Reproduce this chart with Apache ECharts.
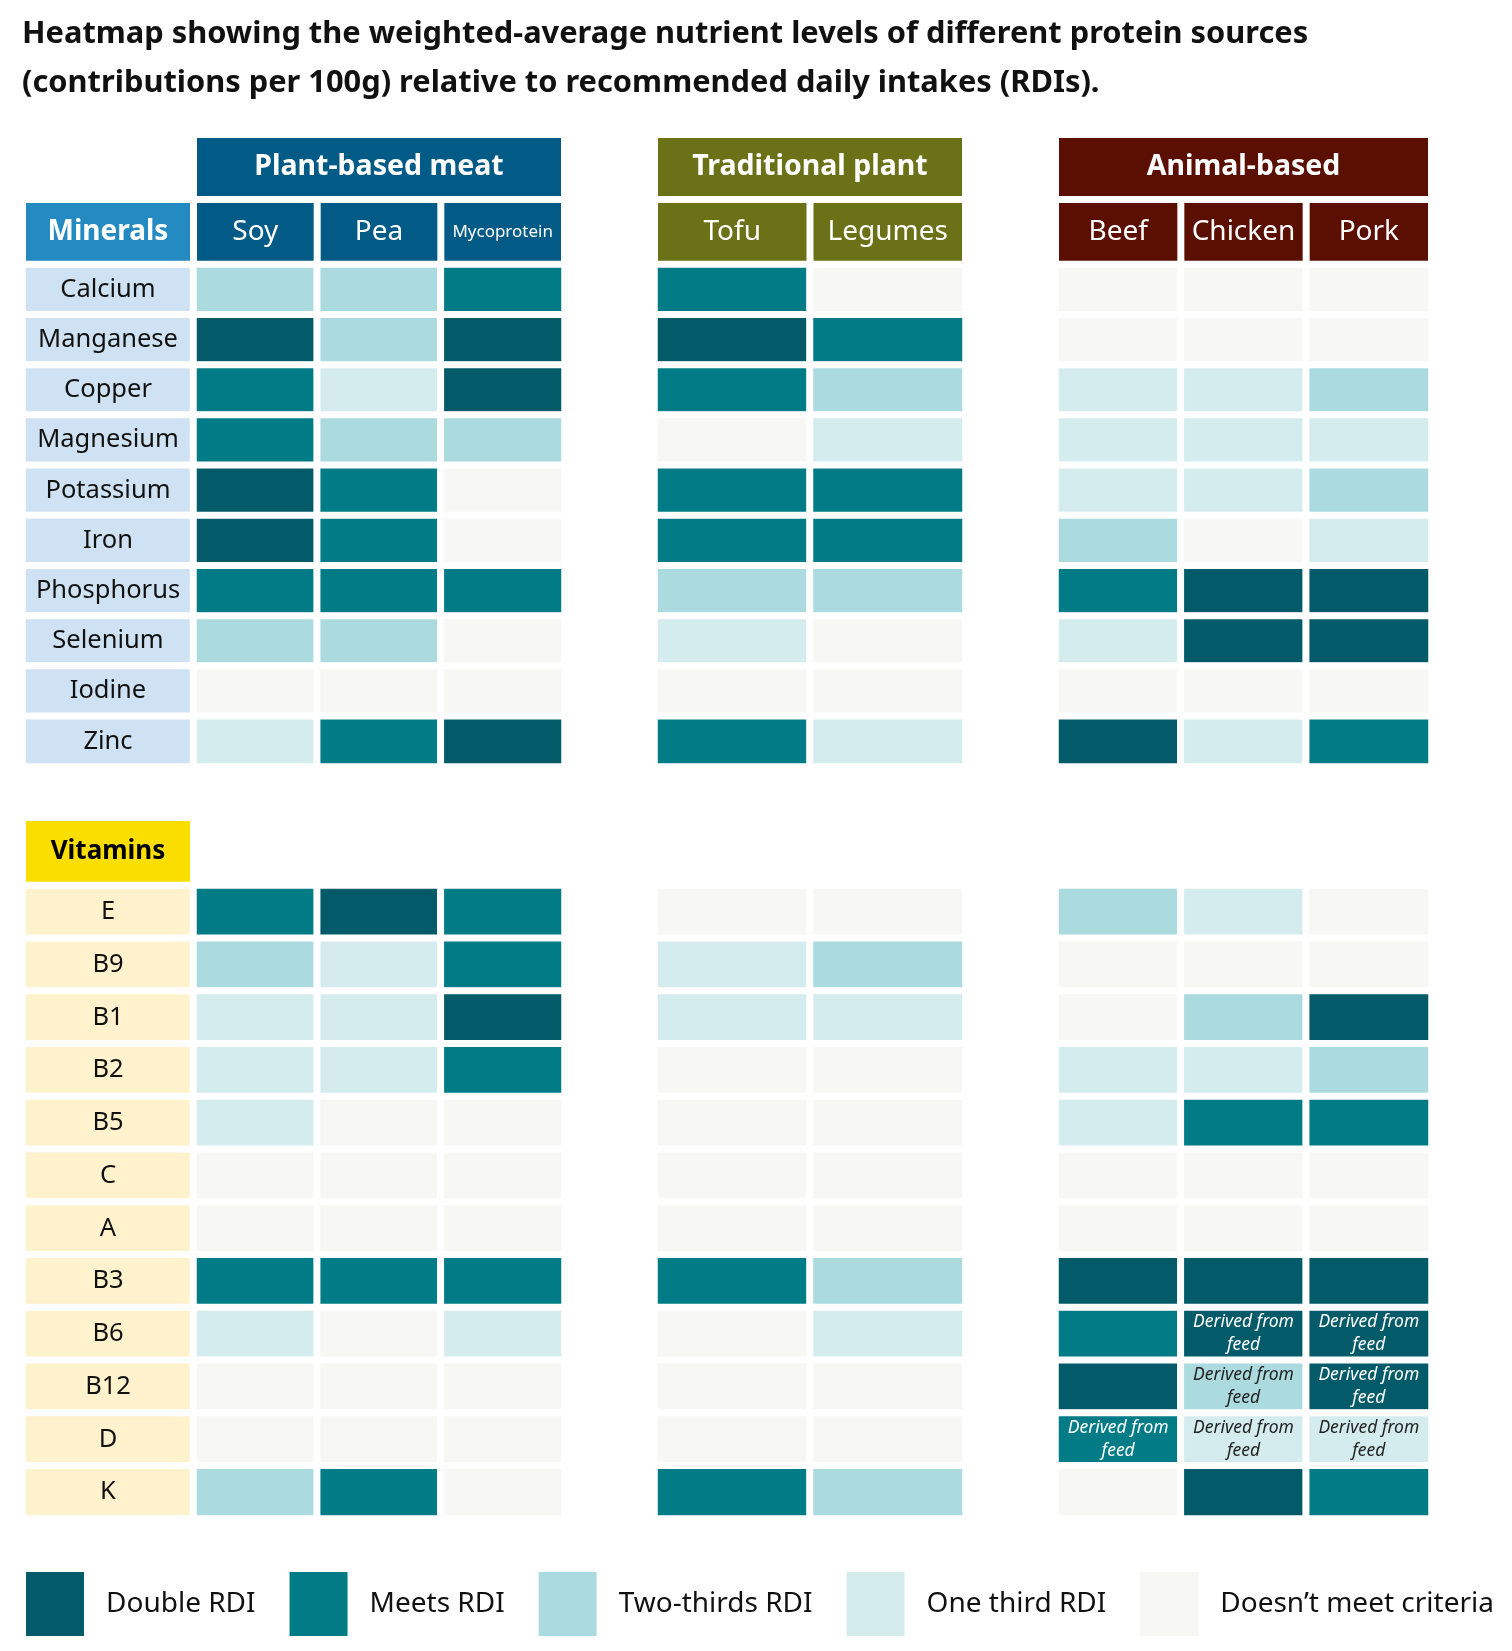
<!DOCTYPE html>
<html><head><meta charset="utf-8">
<script src="https://cdn.jsdelivr.net/npm/echarts@6/dist/echarts.min.js"></script>
<style>html,body{margin:0;padding:0;background:#fff}#c{width:1512px;height:1651px}</style>
</head><body><div id="c"></div>
<script>
// ---------- data ----------
const titleText = 'Heatmap showing the weighted-average nutrient levels of different protein sources\n(contributions per 100g) relative to recommended daily intakes (RDIs).';
const groupNames = ['Plant-based meat', 'Traditional plant', 'Animal-based'];
const plantCols = ['Soy', 'Pea', 'Mycoprotein'];
const tradCols = ['Tofu', 'Legumes'];
const animalCols = ['Beef', 'Chicken', 'Pork'];
const sectionNames = ['Minerals', 'Vitamins'];
const minerals = ['Calcium', 'Manganese', 'Copper', 'Magnesium', 'Potassium', 'Iron', 'Phosphorus', 'Selenium', 'Iodine', 'Zinc'];
const vitamins = ['E', 'B9', 'B1', 'B2', 'B5', 'C', 'A', 'B3', 'B6', 'B12', 'D', 'K'];
// level: 4 Double RDI, 3 Meets RDI, 2 Two-thirds RDI, 1 One third RDI, 0 Doesn't meet criteria
const levelLabels = ['Doesn’t meet criteria', 'One third RDI', 'Two-thirds RDI', 'Meets RDI', 'Double RDI'];
// minerals (order of `minerals`)
const mSoy      = [2, 4, 3, 3, 4, 4, 3, 2, 0, 1];
const mPea      = [2, 2, 1, 2, 3, 3, 3, 2, 0, 3];
const mMyco     = [3, 4, 4, 2, 0, 0, 3, 0, 0, 4];
const mTofu     = [3, 4, 3, 0, 3, 3, 2, 1, 0, 3];
const mLegumes  = [0, 3, 2, 1, 3, 3, 2, 0, 0, 1];
const mBeef     = [0, 0, 1, 1, 1, 2, 3, 1, 0, 4];
const mChicken  = [0, 0, 1, 1, 1, 0, 4, 4, 0, 1];
const mPork     = [0, 0, 2, 1, 2, 1, 4, 4, 0, 3];
// vitamins (order of `vitamins`)
const vSoy      = [3, 2, 1, 1, 1, 0, 0, 3, 1, 0, 0, 2];
const vPea      = [4, 1, 1, 1, 0, 0, 0, 3, 0, 0, 0, 3];
const vMyco     = [3, 3, 4, 3, 0, 0, 0, 3, 1, 0, 0, 0];
const vTofu     = [0, 1, 1, 0, 0, 0, 0, 3, 0, 0, 0, 3];
const vLegumes  = [0, 2, 1, 0, 0, 0, 0, 2, 1, 0, 0, 2];
const vBeef     = [2, 0, 0, 1, 1, 0, 0, 4, 3, 4, 3, 0];
const vChicken  = [1, 0, 2, 1, 3, 0, 0, 4, 4, 2, 1, 4];
const vPork     = [0, 0, 4, 2, 3, 0, 0, 4, 4, 4, 1, 3];
// cells annotated "Derived from feed"
const derivedFeed = [['Beef', 'D'], ['Chicken', 'B6'], ['Chicken', 'B12'], ['Chicken', 'D'], ['Pork', 'B6'], ['Pork', 'B12'], ['Pork', 'D']];
const derivedText = 'Derived from\nfeed';

// ---------- styles / layout ----------
const FONT = '"Noto Sans", "DejaVu Sans", sans-serif';
const levelColors = ['#F7F7F5', '#D5ECEE', '#ABDADF', '#017C87', '#035A69'];
const groupColors = ['#025A87', '#6B7117', '#5B0F02'];
const sectionHeaderBg = ['#238BC2', '#FADE00'];
const sectionHeaderColor = ['#ffffff', '#000000'];
const sectionRowBg = ['#CFE2F3', '#FFF2CD'];
const GAP = 7;
const labelCol = { left: 22.5, width: 171 };
const groupLayout = [{ left: 193.5, width: 371 }, { left: 654.5, width: 311 }, { left: 1055.5, width: 376 }];
const sectionLayout = [{ top: 264.5, height: 502, headH: 58 }, { top: 885.5, height: 633, headH: 61 }];

const groupCols = [plantCols, tradCols, animalCols];
const groupData = [
  [[mSoy, mPea, mMyco], [mTofu, mLegumes], [mBeef, mChicken, mPork]],
  [[vSoy, vPea, vMyco], [vTofu, vLegumes], [vBeef, vChicken, vPork]]
];
const sectionRows = [minerals, vitamins];

const grids = [], xAxes = [], yAxes = [], series = [], dataSeriesIdx = [];
const noAxis = { axisLine: { show: false }, axisTick: { show: false }, splitLine: { show: false }, splitArea: { show: false } };

for (let s = 0; s < 2; s++) {
  const sl = sectionLayout[s];
  const rows = sectionRows[s];
  // label column
  let gi = grids.length;
  grids.push({ left: labelCol.left, width: labelCol.width, top: sl.top, height: sl.height, containLabel: false, outerBoundsMode: 'none' });
  xAxes.push(Object.assign({
    gridIndex: gi, type: 'category', position: 'top', data: [sectionNames[s]],
    axisLabel: {
      interval: 0, margin: GAP / 2, backgroundColor: sectionHeaderBg[s], color: sectionHeaderColor[s],
      fontFamily: FONT, fontWeight: 'bold', fontSize: s === 0 ? 28 : 26,
      width: labelCol.width - GAP, height: sl.headH, lineHeight: sl.headH, align: 'center', overflow: 'none'
    }
  }, noAxis));
  yAxes.push(Object.assign({ gridIndex: gi, type: 'category', data: rows, inverse: true, axisLabel: { show: false } }, noAxis));
  series.push({
    type: 'heatmap', xAxisIndex: gi, yAxisIndex: gi, silent: true,
    data: rows.map((r, i) => [0, i, 0]),
    itemStyle: { color: sectionRowBg[s], borderColor: '#ffffff', borderWidth: GAP },
    label: { show: true, formatter: p => rows[p.value[1]], color: '#111111', fontFamily: FONT, fontSize: 25.5 },
    emphasis: { disabled: true }
  });
  // groups
  for (let g = 0; g < 3; g++) {
    const gl = groupLayout[g];
    const cols = groupCols[g];
    const pitch = gl.width / cols.length;
    gi = grids.length;
    grids.push({ left: gl.left, width: gl.width, top: sl.top, height: sl.height, containLabel: false, outerBoundsMode: 'none' });
    xAxes.push(Object.assign({
      gridIndex: gi, type: 'category', position: 'top', show: s === 0,
      data: cols.map(c => c === 'Mycoprotein' ? { value: c, textStyle: { fontSize: 17 } } : c),
      axisLabel: {
        interval: 0, margin: GAP / 2, backgroundColor: groupColors[g], color: '#ffffff',
        fontFamily: FONT, fontSize: 28, width: pitch - GAP, height: sl.headH, lineHeight: sl.headH,
        align: 'center', overflow: 'none'
      },
      name: s === 0 ? '{h|' + groupNames[g] + '}' : '', nameLocation: 'middle', nameGap: sl.headH + GAP * 1.5,
      nameMoveOverlap: false,
      nameTextStyle: {
        align: 'center', verticalAlign: 'bottom',
        rich: {
          h: {
            backgroundColor: groupColors[g], color: '#ffffff', fontFamily: FONT, fontWeight: 'bold', fontSize: 28.5,
            width: gl.width - GAP, height: 58, lineHeight: 58, align: 'center'
          }
        }
      }
    }, noAxis));
    yAxes.push(Object.assign({ gridIndex: gi, type: 'category', data: rows, inverse: true, axisLabel: { show: false } }, noAxis));
    const data = [];
    groupData[s][g].forEach((vals, c) => {
      vals.forEach((v, r) => {
        const item = { value: [c, r, v] };
        if (s === 1 && derivedFeed.some(d => d[0] === cols[c] && d[1] === rows[r])) {
          item.label = {
            show: true, formatter: derivedText, fontFamily: FONT, fontStyle: 'italic', fontSize: 17.5,
            lineHeight: 23, color: v >= 3 ? '#ffffff' : '#222222'
          };
        }
        data.push(item);
      });
    });
    dataSeriesIdx.push(series.length);
    series.push({
      type: 'heatmap', xAxisIndex: gi, yAxisIndex: gi, silent: true, data,
      itemStyle: { borderColor: '#ffffff', borderWidth: GAP },
      label: { show: false },
      emphasis: { disabled: true }
    });
  }
}

const option = {
  animation: false,
  backgroundColor: '#ffffff',
  title: {
    text: titleText, left: 22, top: 10, padding: 0,
    textStyle: { fontFamily: FONT, fontWeight: 'bold', fontSize: 30.8, lineHeight: 49, color: '#111111' }
  },
  grid: grids, xAxis: xAxes, yAxis: yAxes,
  visualMap: {
    type: 'piecewise', seriesIndex: dataSeriesIdx, dimension: 2,
    orient: 'horizontal', inverse: true, left: 26, top: 1572, padding: 0,
    itemWidth: 58, itemHeight: 64, itemGap: 34, textGap: 22, itemSymbol: 'rect',
    selectedMode: false, hoverLink: false,
    textStyle: { fontFamily: FONT, fontSize: 28, color: '#111111' },
    pieces: [4, 3, 2, 1, 0].map(v => ({ value: v, label: levelLabels[v], color: levelColors[v] }))
  },
  series
};
const chart = echarts.init(document.getElementById('c'));
chart.setOption(option);
</script>
</body></html>
